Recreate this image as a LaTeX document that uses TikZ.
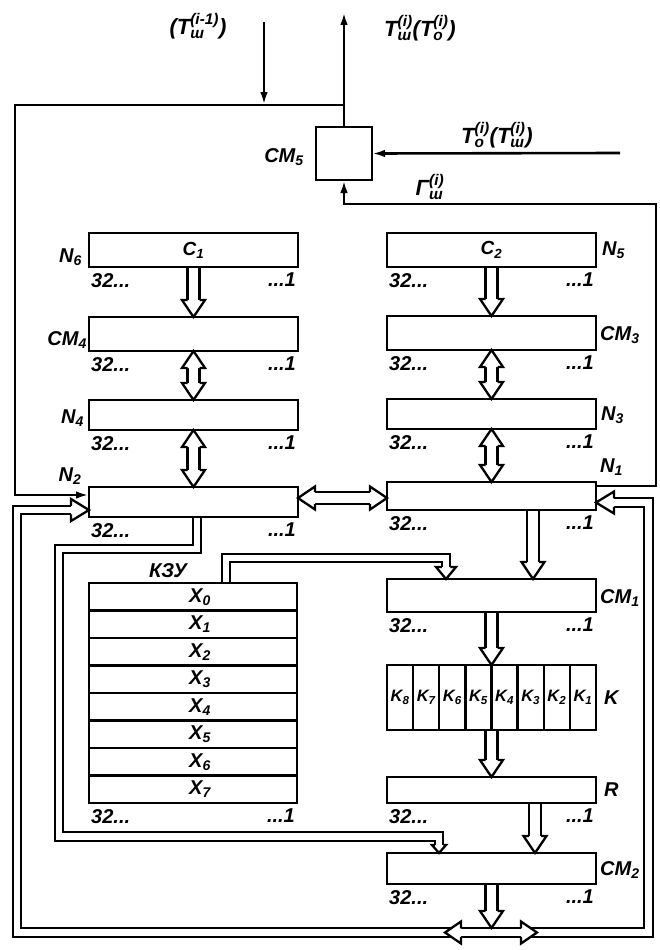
\documentclass[tikz,border=0pt]{standalone}
\usepackage{fontspec}
\usepackage{amsmath}
\setmainfont{Liberation Sans}
\usetikzlibrary{arrows.meta,calc,backgrounds}
\newcommand{\sbs}[1]{$_{\text{#1}}$}
\newcommand{\Tq}[3]{#1$^{\text{(#3)}}_{\text{#2}}$}
\begin{document}
\begin{tikzpicture}[x=1pt,y=-1pt,
  box/.style={draw, line width=2.8pt, inner sep=0pt, outer sep=0pt, minimum width=209pt,
    font=\fontsize{19}{21}\selectfont\bfseries\itshape},
  ln/.style={line width=2.6pt},
  tipA/.style={-{Latex[length=13pt,width=7.5pt]}},
  bus/.style={line width=2.3pt, double=white, double distance=6.2pt},
  fat/.style={line width=2.3pt, double=white, double distance=9.7pt},
  lbl/.style={font=\fontsize{20}{22}\selectfont\bfseries\itshape, inner sep=0pt},
  tl/.style={font=\fontsize{22}{24}\selectfont\bfseries\itshape, inner sep=0pt},
  kl/.style={font=\fontsize{16.5}{17}\selectfont\bfseries\itshape, inner sep=0pt},
  pics/hd/.style args={#1/#2/#3}{code={\draw[line width=2.3pt, fill=white, line join=miter]
     (-#3,-#1) -- (-#3,-#2) -- (0pt,0pt) -- (-#3,#2) -- (-#3,#1);}}
]
\useasboundingbox (0,0) rectangle (660,950);

% ---------- boxes
\node[box, minimum width=56pt, minimum height=53pt] (cm5) at (344,153.5) {};
\node[box, minimum height=34pt] (c1) at (193.5,250) {С\sbs{1}};
\node[box, minimum height=34pt] (cm4) at (193.5,334) {};
\node[box, minimum height=30pt] (n4) at (193.5,415) {};
\node[box, minimum height=30pt] (n2) at (193.5,502) {};
\node[box, minimum width=208pt, minimum height=220pt] (kzu) at (193,693) {};
\node[box, minimum height=34pt] (c2) at (491.5,250) {С\sbs{2}};
\node[box, minimum height=34pt] (cm3) at (491.5,333) {};
\node[box, minimum height=30pt] (n3) at (491.5,414) {};
\node[box, minimum height=28pt] (n1) at (491.5,496) {};
\node[box, minimum height=33pt] (cm1) at (491.5,595.5) {};
\node[box, minimum height=65pt] (k) at (491.5,697.5) {};
\node[box, minimum height=26pt] (r) at (491.5,790) {};
\node[box, minimum height=31pt] (cm2) at (491.5,868.5) {};

% KZU rows
\foreach \i in {1,...,7}
  \draw[line width=2.4pt] ($(kzu.north west)+(0,{27.5*\i})$) -- ($(kzu.north east)+(0,{27.5*\i})$);
\foreach \i in {0,...,7}
  \node[lbl] (x\i) at ($(kzu.north)+(7,{13.75+27.5*\i})$) {X\sbs{\i}};
% K cells
\foreach \i in {1,...,7}
  \draw[line width=2.4pt] ($(k.north west)+({26.125*\i},0)$) -- ($(k.south west)+({26.125*\i},0)$);
\foreach \i/\n in {0/8,1/7,2/6,3/5,4/4,5/3,6/2,7/1}
  \node[kl] (k\n) at ($(k.west)+({26.125*\i+13.06},0)$) {K\sbs{\n}};

% bit labels
\foreach \b in {c1,cm4,n4,n2,kzu,c2,cm3,n3,n1,cm1,r,cm2}{
  \node[lbl, anchor=north west] (\b-l) at ([xshift=2pt,yshift=-6pt]\b.south west) {32...};
  \node[lbl, anchor=north east] (\b-r) at ([xshift=-2pt,yshift=-6pt]\b.south east) {...1};
}

% names
\node[lbl, anchor=east] (lN6) at (82,257) {N\sbs{6}};
\node[lbl, anchor=east] (lCM4) at (87,340) {СМ\sbs{4}};
\node[lbl, anchor=east] (lN4) at (84,418) {N\sbs{4}};
\node[lbl] (lN2) at (70,476) {N\sbs{2}};
\node[lbl, anchor=west] (lN5) at (602,250) {N\sbs{5}};
\node[lbl, anchor=west] (lCM3) at (600,335) {СМ\sbs{3}};
\node[lbl, anchor=west] (lN3) at (601,415) {N\sbs{3}};
\node[lbl, anchor=west] (lN1) at (600,467) {N\sbs{1}};
\node[lbl, anchor=west] (lCM1) at (600,598) {СМ\sbs{1}};
\node[lbl, anchor=west] (lK) at (604,698) {K};
\node[lbl, anchor=west] (lR) at (604,790) {R};
\node[lbl, anchor=west] (lCM2) at (600,870) {СМ\sbs{2}};
\node[lbl] (lCM5) at (284,157) {СМ\sbs{5}};
\node[lbl] (lKZU) at (168,571) {КЗУ};

\node[tl] (tin) at (198,26) {(\Tq{Т}{ш}{i-1})};
\node[tl] (tout) at (420,28) {\Tq{Т}{ш}{i}(\Tq{Т}{о}{i})};
\node[tl] (tr) at (497,135) {\Tq{Т}{о}{i}(\Tq{Т}{ш}{i})};
\node[tl] (gr) at (430,187) {\Tq{Г}{ш}{i}};

% ---------- coordinates
\coordinate (fTR) at (344,105);
\coordinate (fTL) at (15,105);
\coordinate (fBL) at (15,495);
\coordinate (inT) at (264,22);
\coordinate (outT) at (344,12);
\coordinate (inR) at (620,153);
\coordinate (gR1) at (656,204);
\coordinate (bj) at (491.5,932.5);
\coordinate (bjt) at (491.5,928);
\coordinate (nbA) at (59,549);
\coordinate (nbB) at (439,836.5);
\coordinate (bL) at (17,510);
\coordinate (bR) at (648.5,502.5);
\coordinate (mL) at (445,932.5);
\coordinate (mR) at (537,932.5);

\begin{scope}[on background layer]
% single lines
\draw[ln, tipA] (fTR) -- (fTL) -- (fBL) -- ([yshift=7pt]n2.west);
\draw[ln, tipA] (inT) -- (inT |- fTR);
\draw[ln, tipA] (cm5.north) -- (outT);
\draw[ln, tipA] (inR) -- (cm5.east);
\draw[ln, tipA] ([yshift=10pt]n1.east) -| (gR1) -| (cm5.south);

% fat arrows left
\draw[fat] (c1.south) -- ([yshift=17pt]cm4.north);
\pic[rotate=-90] at (cm4.north) {hd=6pt/11.5pt/17pt};
\draw[fat] ([yshift=-17pt]cm4.south) -- ([yshift=17pt]n4.north);
\pic[rotate=90] at (cm4.south) {hd=6pt/11.5pt/17pt};
\pic[rotate=-90] at (n4.north) {hd=6pt/11.5pt/17pt};
\draw[fat] ([yshift=-17pt]n4.south) -- ([yshift=17pt]n2.north);
\pic[rotate=90] at (n4.south) {hd=6pt/11.5pt/17pt};
\pic[rotate=-90] at (n2.north) {hd=6pt/11.5pt/17pt};
% fat arrows right
\draw[fat] (c2.south) -- ([yshift=17pt]cm3.north);
\pic[rotate=-90] at (cm3.north) {hd=6pt/11.5pt/17pt};
\draw[fat] ([yshift=-17pt]cm3.south) -- ([yshift=17pt]n3.north);
\pic[rotate=90] at (cm3.south) {hd=6pt/11.5pt/17pt};
\pic[rotate=-90] at (n3.north) {hd=6pt/11.5pt/17pt};
\draw[fat] ([yshift=-17pt]n3.south) -- ([yshift=17pt]n1.north);
\pic[rotate=90] at (n3.south) {hd=6pt/11.5pt/17pt};
\pic[rotate=-90] at (n1.north) {hd=6pt/11.5pt/17pt};
% N2 <-> N1
\draw[fat] ([xshift=17pt,yshift=4pt]n2.east) -- ([xshift=-17pt,yshift=-2pt]n1.west);
\pic[rotate=180] at ([yshift=4pt]n2.east) {hd=6pt/11.5pt/17pt};
\pic at ([yshift=-2pt]n1.west) {hd=6pt/11.5pt/17pt};
% N1 -> CM1 -> K -> R -> CM2
\draw[fat] ([xshift=41.5pt]n1.south) -- ([xshift=41.5pt,yshift=17pt]cm1.north);
\pic[rotate=-90] at ([xshift=41.5pt]cm1.north) {hd=6pt/11.5pt/17pt};
\draw[fat] (cm1.south) -- ([yshift=17pt]k.north);
\pic[rotate=-90] at (k.north) {hd=6pt/11.5pt/17pt};
\draw[fat] (k.south) -- ([yshift=17pt]r.north);
\pic[rotate=-90] at (r.north) {hd=6pt/11.5pt/17pt};
\draw[fat] ([xshift=43.5pt]r.south) -- ([xshift=43.5pt,yshift=17pt]cm2.north);
\pic[rotate=-90] at ([xshift=43.5pt]cm2.north) {hd=6pt/11.5pt/17pt};

% buses
\draw[bus] ([xshift=3.5pt]n2.south) |- (nbA) |- (nbB) -- ([xshift=-52.5pt,yshift=8pt]cm2.north);
\pic[rotate=-90] at ([xshift=-52.5pt]cm2.north) {hd=4.25pt/7pt/8pt};
\draw[bus] ([xshift=33pt]kzu.north) |- ([xshift=-45.5pt,yshift=21pt]cm1.north) -- ([xshift=-45.5pt,yshift=12pt]cm1.north);
\pic[rotate=-90] at ([xshift=-45.5pt]cm1.north) {hd=4.25pt/10pt/12pt};
\draw[bus] (bj) -| (bL) -- ([xshift=-18pt,yshift=-8pt]n2.west);
\pic at ([yshift=-8pt]n2.west) {hd=4.25pt/11pt/18pt};
\draw[bus] (bj) -| (bR) -- ([xshift=18pt,yshift=-6.5pt]n1.east);
\pic[rotate=180] at ([yshift=-6.5pt]n1.east) {hd=4.25pt/11pt/18pt};
\pic[rotate=180] at (mL) {hd=4.25pt/11pt/16pt};
\pic at (mR) {hd=4.25pt/11pt/16pt};
\draw[fat] (cm2.south) -- ([yshift=17pt]bjt);
\pic[rotate=-90] at (bjt) {hd=6pt/11.5pt/17pt};
\end{scope}
\end{tikzpicture}
\end{document}
